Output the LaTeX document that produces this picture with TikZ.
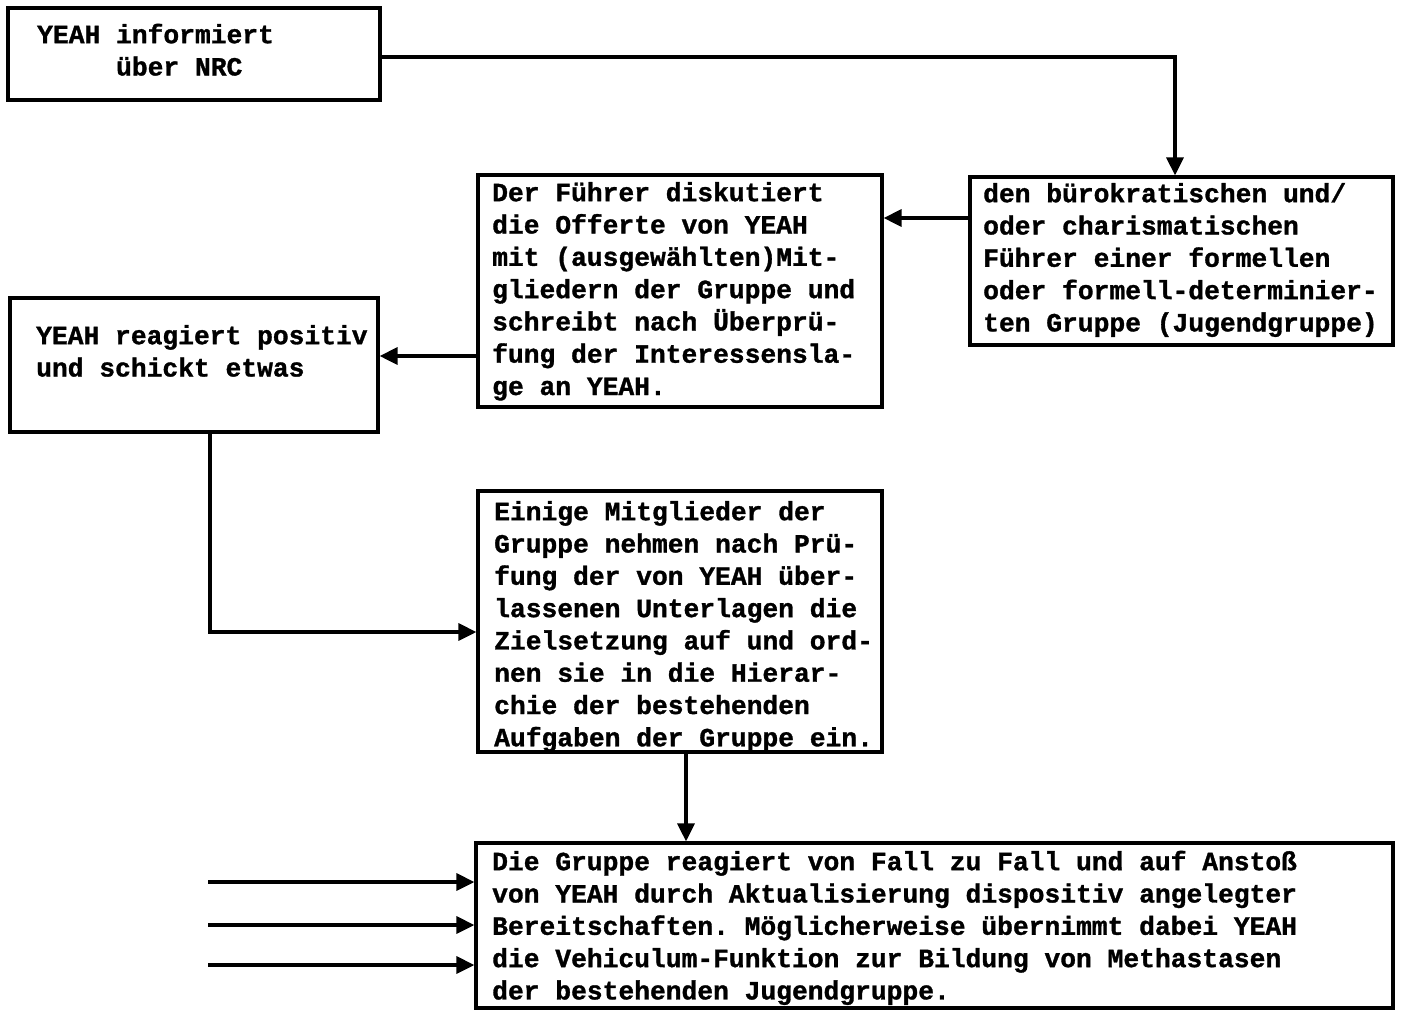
\documentclass[tikz,border=0pt]{standalone}
\usepackage{fontspec}
\newfontfamily\tw[BoldFeatures={FakeBold=1.2}]{Liberation Mono}
\usetikzlibrary{arrows.meta}
\AtBeginDocument{\setlength{\lineskiplimit}{-100pt}\frenchspacing}
\newcommand\fs{\rule{0pt}{25pt}}
\begin{document}
\begin{tikzpicture}[x=1pt,y=-1pt,
  box/.style={draw,line width=3.2pt,inner sep=0pt},
  txt/.style={anchor=north west,inner sep=0pt,align=left,
    font=\tw\bfseries\fontsize{26.3pt}{32.3pt}\selectfont\frenchspacing},
  arr/.style={line width=3.2pt,-{Triangle[length=18pt,width=17pt]}}]
\useasboundingbox (0,0) rectangle (1401,1010);
% boxes
\node[box,minimum width=372pt,minimum height=92pt] (b1) at (194,54) {};
\node[box,minimum width=423pt,minimum height=168pt] (b2) at (1181.5,261) {};
\node[box,minimum width=404pt,minimum height=232pt] (b3) at (680,291) {};
\node[box,minimum width=368pt,minimum height=134pt] (b4) at (194,365) {};
\node[box,minimum width=404pt,minimum height=261pt] (b5) at (680,621.5) {};
\node[box,minimum width=917pt,minimum height=165pt] (b6) at (934.5,925.5) {};
% texts
\node[txt] (t1) at (37,18) {\fs YEAH informiert\\\hphantom{xxxxx}über NRC};
\node[txt] (t2) at (983,177) {\fs den bürokratischen und/\\oder charismatischen\\Führer einer formellen\\oder formell-determinier-\\ten Gruppe (Jugendgruppe)};
\node[txt] (t3) at (492,176) {\fs Der Führer diskutiert\\die Offerte von YEAH\\mit (ausgewählten)Mit-\\gliedern der Gruppe und\\schreibt nach Überprü-\\fung der Interessensla-\\ge an YEAH.};
\node[txt] (t4) at (36,319) {\fs YEAH reagiert positiv\\und schickt etwas};
\node[txt] (t5) at (494,495) {\fs Einige Mitglieder der\\Gruppe nehmen nach Prü-\\fung der von YEAH über-\\lassenen Unterlagen die\\Zielsetzung auf und ord-\\nen sie in die Hierar-\\chie der bestehenden\\Aufgaben der Gruppe ein.};
\node[txt] (t6) at (492,845) {\fs Die Gruppe reagiert von Fall zu Fall und auf Anstoß\\von YEAH durch Aktualisierung dispositiv angelegter\\Bereitschaften. Möglicherweise übernimmt dabei YEAH\\die Vehiculum-Funktion zur Bildung von Methastasen\\der bestehenden Jugendgruppe.};
% connectors
\coordinate (a0) at ([yshift=-3pt]b1.east);
\coordinate (a1) at ([xshift=-6.5pt]b2.north);
\draw[arr] (a0) -| (a1);
\coordinate (a2) at ([yshift=43pt]b2.west);
\draw[arr] (a2) -- (a2 -| b3.east);
\coordinate (a3) at ([yshift=-65pt]b3.west);
\draw[arr] (a3) -- (a3 -| b4.east);
\coordinate (a4) at ([xshift=16pt]b4.south);
\draw[arr] (a4) |- ([yshift=-10.5pt]b5.west);
\coordinate (a5) at ([xshift=6pt]b5.south);
\draw[arr] (a5) -- (a5 |- b6.north);
\coordinate (s1) at (208,882);
\coordinate (s2) at (208,925);
\coordinate (s3) at (208,965);
\draw[arr] (s1) -- (s1 -| b6.west);
\draw[arr] (s2) -- (s2 -| b6.west);
\draw[arr] (s3) -- (s3 -| b6.west);
\end{tikzpicture}
\end{document}
